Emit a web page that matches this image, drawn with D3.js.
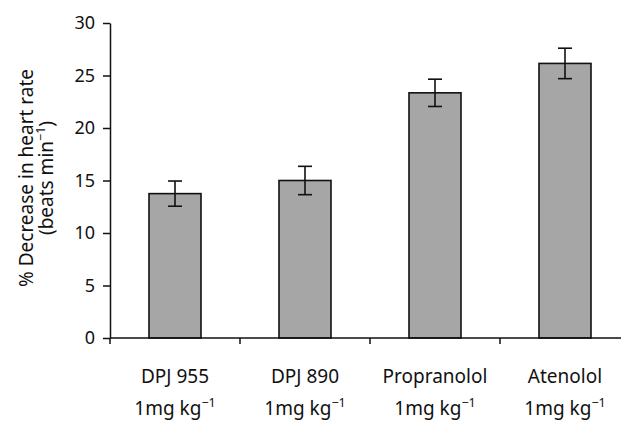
<!DOCTYPE html>
<html>
<head>
<meta charset="utf-8">
<script src="https://cdn.jsdelivr.net/npm/d3@7"></script>
<style>
  html, body { margin: 0; padding: 0; background: #fff; }
  svg { display: block; font-family: "Noto Sans", sans-serif; }
</style>
</head>
<body>
<div id="chart"></div>
<script>
// DATA
const drugs = ["DPJ 955", "DPJ 890", "Propranolol", "Atenolol"];
const decrease = [13.75, 15.0, 23.35, 26.15];
const errors = [1.2, 1.35, 1.3, 1.45];
const yTicks = [0, 5, 10, 15, 20, 25, 30];

// GRAPH CONSTANTS
const w = 621;
const h = 423;
const padLeft = 110;
const padTop = 23;
const axisY = 338;
const fontSize = 19;
const supSize = 12.5;

const svg = d3.select("#chart")
    .append("svg")
    .attr("width", w)
    .attr("height", h);

// SCALES
const xScale = d3.scaleBand()
    .domain(drugs)
    .range([padLeft, padLeft + 520])
    .paddingInner(0.6)
    .paddingOuter(0.3);

const yScale = d3.scaleLinear()
    .domain([0, 30])
    .range([axisY, padTop]);

// BARS
svg.selectAll("rect.bar")
    .data(drugs)
    .enter()
    .append("rect")
    .attr("class", "bar")
    .attr("x", d => xScale(d))
    .attr("width", xScale.bandwidth())
    .attr("y", (d, i) => yScale(decrease[i]))
    .attr("height", (d, i) => yScale(0) - yScale(decrease[i]))
    .attr("fill", "#a6a6a6")
    .attr("stroke", "#111")
    .attr("stroke-width", 1.6);

// ERROR BARS
const cap = 7;
const err = svg.append("g")
    .attr("stroke", "#111")
    .attr("stroke-width", 1.6);
drugs.forEach((d, i) => {
    const cx = xScale(d) + xScale.bandwidth() / 2;
    const top = yScale(decrease[i] + errors[i]);
    const bot = yScale(decrease[i] - errors[i]);
    err.append("line").attr("x1", cx).attr("x2", cx).attr("y1", top).attr("y2", bot);
    err.append("line").attr("x1", cx - cap).attr("x2", cx + cap).attr("y1", top).attr("y2", top);
    err.append("line").attr("x1", cx - cap).attr("x2", cx + cap).attr("y1", bot).attr("y2", bot);
});

// Y AXIS
const yAxis = d3.axisLeft(yScale)
    .tickValues(yTicks)
    .tickSize(7)
    .tickPadding(8)
    .tickSizeOuter(0);
const gy = svg.append("g")
    .attr("transform", `translate(${padLeft}, 0)`)
    .call(yAxis);
gy.selectAll("text")
    .attr("font-size", 18)
    .attr("font-family", "Noto Sans")
    .attr("fill", "#111");
gy.selectAll("line, path").attr("stroke", "#111").attr("stroke-width", 1.5);

// X AXIS (ticks at the band edges)
const step = xScale.step();
const edges = d3.range(drugs.length + 1).map(i => padLeft + i * step);
const gx = svg.append("g")
    .attr("stroke", "#111")
    .attr("stroke-width", 1.5);
gx.append("line")
    .attr("x1", padLeft).attr("x2", padLeft + 520)
    .attr("y1", axisY).attr("y2", axisY);
gx.selectAll("line.tick")
    .data(edges)
    .enter()
    .append("line")
    .attr("class", "tick")
    .attr("x1", d => d).attr("x2", d => d)
    .attr("y1", axisY).attr("y2", axisY + 6);

// CATEGORY LABELS
const labels = svg.append("g")
    .attr("font-size", fontSize)
    .attr("fill", "#111")
    .attr("text-anchor", "middle");
labels.selectAll("text.name")
    .data(drugs)
    .enter()
    .append("text")
    .attr("class", "name")
    .attr("x", d => xScale(d) + xScale.bandwidth() / 2)
    .attr("y", 383)
    .text(d => d);
const dose = labels.selectAll("text.dose")
    .data(drugs)
    .enter()
    .append("text")
    .attr("class", "dose")
    .attr("x", d => xScale(d) + xScale.bandwidth() / 2)
    .attr("y", 415);
dose.append("tspan").text("1mg kg");
dose.append("tspan").attr("dy", -8).attr("font-size", supSize).text("\u22121");

// Y TITLE
const title = svg.append("g")
    .attr("font-size", fontSize)
    .attr("fill", "#111")
    .attr("text-anchor", "middle");
const midY = 178;
title.append("text")
    .attr("transform", `translate(33, ${midY}) rotate(-90)`)
    .text("% Decrease in heart rate");
const t2 = title.append("text")
    .attr("transform", `translate(53, ${midY}) rotate(-90)`);
t2.append("tspan").text("(beats min");
t2.append("tspan").attr("dy", -8).attr("font-size", supSize).text("\u22121");
t2.append("tspan").attr("dy", 8).text(")");
</script>
</body>
</html>
